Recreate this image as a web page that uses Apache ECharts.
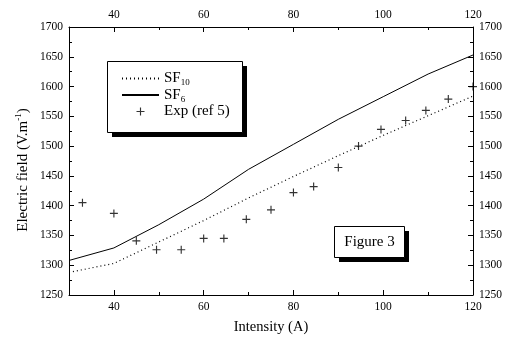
<!DOCTYPE html>
<html>
<head>
<meta charset="utf-8">
<script src="https://cdn.jsdelivr.net/npm/echarts@6/dist/echarts.min.js"></script>
<style>
html,body{margin:0;padding:0;background:#fff;}
#chart{width:506px;height:340px;}
</style>
</head>
<body>
<div id="chart"></div>
<script>
// ---- data ----
var xModel = [30, 40, 50, 60, 70, 80, 90, 100, 110, 120];
var sf10 = [1288, 1303, 1339, 1375, 1413, 1449, 1484, 1518, 1551, 1584];
var sf6 = [1308, 1329, 1368, 1411, 1461, 1503, 1545, 1583, 1621, 1653];
var expX = [33, 40, 45, 49.5, 55, 60, 64.5, 69.5, 75, 80, 84.5, 90, 94.5, 99.5, 105, 109.5, 114.5, 120];
var expY = [1405, 1387, 1341, 1326, 1326, 1345, 1345, 1377, 1393, 1422, 1432, 1464, 1500, 1528, 1543, 1560, 1579, 1600];
var xMajorTicks = [40, 60, 80, 100, 120];
var xMinorTicks = [50, 70, 90, 110];
var seriesNames = ['SF10', 'SF6', 'Exp (ref 5)'];

var FONT = 'Liberation Serif';
function pairs(xs, ys) { return xs.map(function (x, i) { return [x, ys[i]]; }); }
var plusPath = 'path://M3,0H4V3H7V4H4V7H3V4H0V3H3Z';
function plain(v) { return String(v); }

function xAx(pos, major) {
  return {
    type: 'value', position: pos, min: 30, max: 120,
    axisLine: { show: major, onZero: false, lineStyle: { color: '#000', width: 1 } },
    axisTick: { show: true, inside: true, length: major ? 5 : 3, customValues: major ? xMajorTicks : xMinorTicks, lineStyle: { color: '#000' } },
    axisLabel: major ? { show: true, customValues: xMajorTicks, formatter: plain, color: '#000', fontFamily: FONT, fontSize: 11.5, margin: 6 } : { show: false },
    splitLine: { show: false }
  };
}
function yAx(pos) {
  return {
    type: 'value', position: pos, min: 1250, max: 1700, interval: 50,
    axisLine: { show: true, onZero: false, lineStyle: { color: '#000', width: 1 } },
    axisTick: { show: true, inside: true, length: 5, lineStyle: { color: '#000' } },
    minorTick: { show: true, splitNumber: 2, length: 3, lineStyle: { color: '#000' } },
    axisLabel: { formatter: plain, color: '#000', fontFamily: FONT, fontSize: 11.5, margin: 6 },
    splitLine: { show: false }
  };
}
var xAxes = [xAx('bottom', true), xAx('bottom', false), xAx('top', true), xAx('top', false)];
xAxes[0].name = 'Intensity (A)';
xAxes[0].nameLocation = 'middle';
xAxes[0].nameGap = 25;
xAxes[0].nameTextStyle = { color: '#000', fontFamily: FONT, fontSize: 14.5 };

var hiddenSym = { color: 'rgba(0,0,0,0)', borderColor: 'rgba(0,0,0,0)', borderWidth: 0, opacity: 0 };

var chart = echarts.init(document.getElementById('chart'), null, { renderer: 'canvas' });
chart.setOption({
  animation: false,
  backgroundColor: '#fff',
  grid: { left: 69, right: 33, top: 27, bottom: 44, containLabel: false },
  xAxis: xAxes,
  yAxis: [yAx('left'), yAx('right')],
  legend: {
    show: true, orient: 'vertical', left: 121, top: 71, padding: 0,
    itemWidth: 37, itemHeight: 8, itemGap: 0, selectedMode: false, z: 10,
    data: [
      { name: seriesNames[0], itemStyle: hiddenSym },
      { name: seriesNames[1], itemStyle: hiddenSym },
      { name: seriesNames[2] }
    ],
    formatter: function (n) {
      if (n === 'SF10') return '{m|SF}{s|10}';
      if (n === 'SF6') return '{m|SF}{s|6}';
      return '{m|' + n + '}';
    },
    textStyle: {
      color: '#000', fontFamily: FONT, fontSize: 15,
      rich: {
        m: { fontFamily: FONT, fontSize: 15, lineHeight: 18, color: '#000' },
        s: { fontFamily: FONT, fontSize: 9, lineHeight: 8, verticalAlign: 'bottom', color: '#000' }
      }
    }
  },
  graphic: [
    { type: 'rect', z: 5, shape: { x: 112, y: 66, width: 135, height: 71 }, style: { fill: '#000' } },
    { type: 'rect', z: 6, shape: { x: 107.5, y: 61.5, width: 135, height: 71 }, style: { fill: '#fff', stroke: '#000', lineWidth: 1 } },
    { type: 'rect', z: 5, shape: { x: 339, y: 231, width: 70, height: 31 }, style: { fill: '#000' } },
    { type: 'rect', z: 6, shape: { x: 334.5, y: 226.5, width: 70, height: 31 }, style: { fill: '#fff', stroke: '#000', lineWidth: 1 } },
    { type: 'text', z: 7, x: 369.5, y: 242, style: { text: 'Figure 3', fill: '#000', font: '15px "Liberation Serif"', align: 'center', verticalAlign: 'middle' } },
    { type: 'text', z: 7, x: 23, y: 170, rotation: Math.PI / 2,
      style: { text: '{m|Electric field (V.m}{p|-1}{m|)}', align: 'center', verticalAlign: 'middle', fill: '#000',
        rich: {
          m: { fontFamily: FONT, fontSize: 15, lineHeight: 18, fill: '#000' },
          p: { fontFamily: FONT, fontSize: 9, lineHeight: 8, verticalAlign: 'top', fill: '#000' }
        } } }
  ],
  series: [
    { name: 'SF10', type: 'line', xAxisIndex: 0, yAxisIndex: 0, data: pairs(xModel, sf10), symbol: 'none', showSymbol: false,
      lineStyle: { color: '#000', width: 1.2, type: [1, 3] }, itemStyle: { color: '#000' } },
    { name: 'SF6', type: 'line', xAxisIndex: 0, yAxisIndex: 0, data: pairs(xModel, sf6), symbol: 'none', showSymbol: false,
      lineStyle: { color: '#000', width: 1 }, itemStyle: { color: '#000' } },
    { name: 'Exp (ref 5)', type: 'scatter', xAxisIndex: 0, yAxisIndex: 0, data: pairs(expX, expY), clip: false,
      symbol: plusPath, symbolSize: 8, itemStyle: { color: '#000' } }
  ]
});
</script>
</body>
</html>
